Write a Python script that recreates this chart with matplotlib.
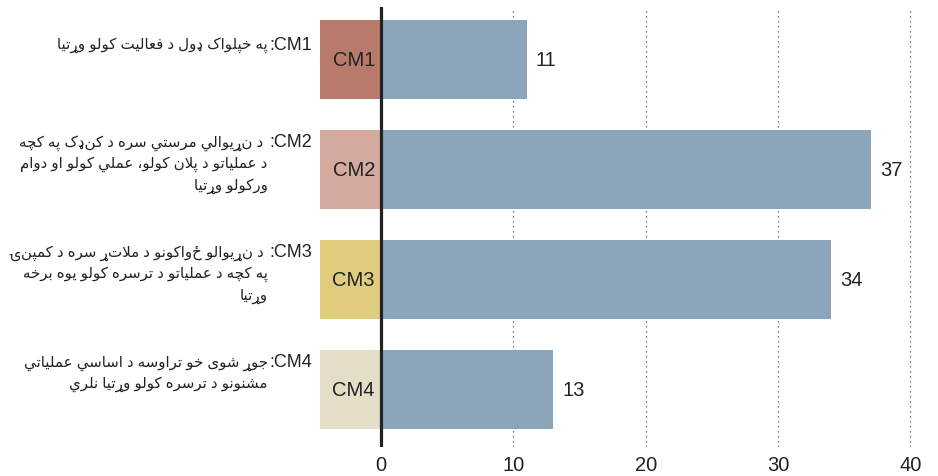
import matplotlib
matplotlib.use('Agg')
import matplotlib.pyplot as plt


# data
codes = ['CM1', 'CM2', 'CM3', 'CM4']
values = [11, 37, 34, 13]
descriptions = [
    ['په خپلواک ډول د فعالیت کولو وړتیا'],
    [' د نړیوالي مرستي سره د کنډک په کچه',
     'د عملیاتو د پلان کولو، عملي کولو او دوام',
     'ورکولو وړتیا'],
    [' د نړیوالو ځواکونو د ملاتړ سره د کمپنۍ',
     'په کچه د عملیاتو د ترسره کولو یوه برخه',
     'وړتیا'],
    ['جوړ شوی خو تراوسه د اساسي عملیاتي',
     'مشنونو د ترسره کولو وړتیا نلري'],
]
xticks = [0, 10, 20, 30, 40]

code_colors = ['#b87a6a', '#d3aa9d', '#e0cc7e', '#e4dec6']
bar_color = '#8ba6bb'
text_color = '#222222'


# matplotlib has no arabic shaping: pick presentation forms and reverse
# (iso, fin, ini, med), ini/med None for right-joining letters
FORMS = {
    '\u0627': ('\uFE8D', '\uFE8E', None, None),
    '\u0628': ('\uFE8F', '\uFE90', '\uFE91', '\uFE92'),
    '\u062A': ('\uFE95', '\uFE96', '\uFE97', '\uFE98'),
    '\u062C': ('\uFE9D', '\uFE9E', '\uFE9F', '\uFEA0'),
    '\u062E': ('\uFEA5', '\uFEA6', '\uFEA7', '\uFEA8'),
    '\u062F': ('\uFEA9', '\uFEAA', None, None),
    '\u0631': ('\uFEAD', '\uFEAE', None, None),
    '\u0633': ('\uFEB1', '\uFEB2', '\uFEB3', '\uFEB4'),
    '\u0634': ('\uFEB5', '\uFEB6', '\uFEB7', '\uFEB8'),
    '\u0639': ('\uFEC9', '\uFECA', '\uFECB', '\uFECC'),
    '\u0641': ('\uFED1', '\uFED2', '\uFED3', '\uFED4'),
    '\u0643': ('\uFED9', '\uFEDA', '\uFEDB', '\uFEDC'),
    '\u0644': ('\uFEDD', '\uFEDE', '\uFEDF', '\uFEE0'),
    '\u0645': ('\uFEE1', '\uFEE2', '\uFEE3', '\uFEE4'),
    '\u0646': ('\uFEE5', '\uFEE6', '\uFEE7', '\uFEE8'),
    '\u0647': ('\uFEE9', '\uFEEA', '\uFEEB', '\uFEEC'),
    '\u0648': ('\uFEED', '\uFEEE', None, None),
    '\u0649': ('\uFEEF', '\uFEF0', None, None),
    '\u064A': ('\uFEF1', '\uFEF2', '\uFEF3', '\uFEF4'),
    '\u067E': ('\uFB56', '\uFB57', '\uFB58', '\uFB59'),
    '\u0686': ('\uFB7A', '\uFB7B', '\uFB7C', '\uFB7D'),
    '\u06A9': ('\uFB8E', '\uFB8F', '\uFB90', '\uFB91'),
    '\u06CC': ('\uFBFC', '\uFBFD', '\uFBFE', '\uFBFF'),
    '\u06D0': ('\uFBE4', '\uFBE5', '\uFBE6', '\uFBE7'),
    '\uFEFB': ('\uFEFB', '\uFEFC', None, None),  # lam-alef
}


def visual(text):
    text = text.replace('\u0644\u0627', '\uFEFB')
    out = []
    for i, ch in enumerate(text):
        forms = FORMS.get(ch)
        if forms is None:
            out.append(ch)
            continue
        prev = FORMS.get(text[i - 1]) if i > 0 else None
        nxt = FORMS.get(text[i + 1]) if i + 1 < len(text) else None
        join_prev = prev is not None and prev[2] is not None
        join_next = forms[2] is not None and nxt is not None
        if join_prev and join_next:
            out.append(forms[3])
        elif join_prev:
            out.append(forms[1])
        elif join_next:
            out.append(forms[2])
        else:
            out.append(forms[0])
    return ''.join(reversed(out))


# Vazirmatn only for letters DejaVu lacks (yeh with tail)
plt.rcParams['font.family'] = ['Liberation Sans', 'DejaVu Sans', 'Vazirmatn']

fig = plt.figure(figsize=(9.38, 4.77), dpi=100)
ax = fig.add_axes([320 / 938, 29 / 477, 597 / 938, 440 / 477])

y = list(range(len(codes)))
box_w = 4.6

ax.barh(y, values, height=0.72, color=bar_color, zorder=2)
ax.barh(y, [box_w] * len(codes), left=-box_w, height=0.72, color=code_colors, zorder=2)
ax.axvline(0, color=text_color, lw=2.3, zorder=3)

for i, (code, val, desc) in enumerate(zip(codes, values, descriptions)):
    ax.text(-0.45, i, code, ha='right', va='center', fontsize=14.5, color=text_color, zorder=4)
    ax.text(val + 0.7, i, str(val), ha='left', va='center', fontsize=14.5, color=text_color)

    # left description: code at the right end of the first line
    top = i - 0.25 if len(desc) > 1 else i - 0.14
    ax.text(-5.2, top, ':' + code, ha='right', va='center',
            fontsize=13, color=text_color, clip_on=False)
    for k, line in enumerate(desc):
        ax.text(-8.55, top + 0.197 * k, visual(line), ha='right', va='center',
                fontsize=10.8, color=text_color, clip_on=False)

ax.set_xlim(-box_w, 40.5)
ax.set_ylim(len(codes) - 0.477, -0.477)
ax.set_xticks(xticks)
ax.set_xticklabels([str(t) for t in xticks], fontsize=14.5, color=text_color)
ax.set_yticks([])
ax.tick_params(axis='x', length=0, pad=6)
ax.grid(axis='x', linestyle=(0, (1, 3)), color='#555555', lw=0.9, zorder=0)
for s in ax.spines.values():
    s.set_visible(False)

fig.savefig('out.png', dpi=100)
